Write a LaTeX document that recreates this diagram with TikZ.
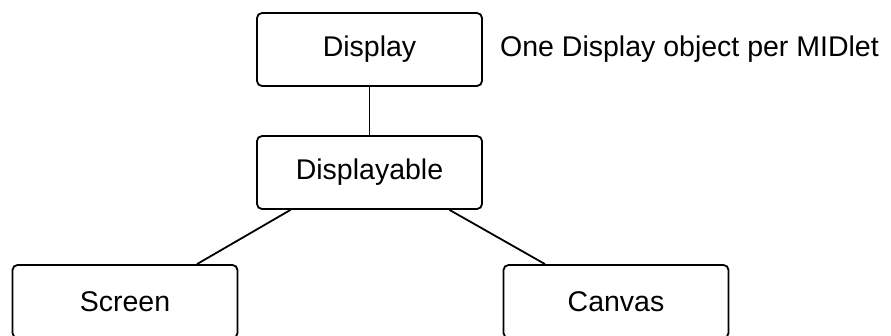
\documentclass[tikz,border=0pt]{standalone}
\usepackage{fontspec}
\setmainfont{Liberation Sans}
\usepackage{tikz}
\usetikzlibrary{positioning}
\tikzset{cls/.style={draw=black,line width=1.8pt,rounded corners=5pt,fill=white,minimum width=225pt,minimum height=73pt,inner sep=0pt,font=\fontsize{28.5}{34}\selectfont}, link/.style={draw=black,line width=1.8pt}, note/.style={anchor=west,inner sep=0pt,font=\fontsize{28.5}{34}\selectfont}}

\begin{document}
\begin{tikzpicture}[x=1pt,y=-1pt]
\clip (0,0) rectangle (891,335);
\node[cls] (disp) at (369.5,49.5) {Display};
\node[cls] (dable) at (369.5,172.5) {Displayable};
\node[cls] (scr) at (125,301.5) {Screen};
\node[cls] (cnv) at (616,301.5) {Canvas};
\node[note] (per) at (500,49.5) {One Display object per MIDlet};
\draw[link] (disp.south) -- (dable.north);
\draw[link] ([xshift=-79pt]dable.south) -- ([xshift=72pt]scr.north);
\draw[link] ([xshift=80pt]dable.south) -- ([xshift=-71pt]cnv.north);
\end{tikzpicture}
\end{document}
